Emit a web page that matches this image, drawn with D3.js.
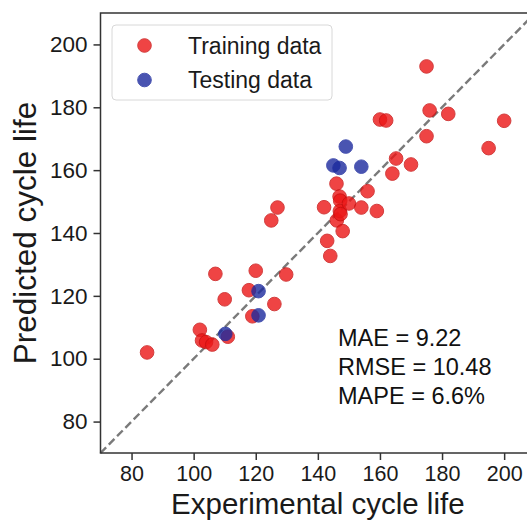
<!DOCTYPE html>
<html>
<head>
<meta charset="utf-8">
<script src="https://cdn.jsdelivr.net/npm/d3@7/dist/d3.min.js"></script>
<style>
  html, body { margin: 0; padding: 0; background: #fff; }
  svg { display: block; font-family: "Liberation Sans", Arial, Helvetica, sans-serif; }
</style>
</head>
<body>
<svg id="chart" width="527" height="520"></svg>
<script>
// Experimental vs predicted cycle life
const trainExp = [85, 102, 102.7, 104, 106, 107, 110, 111, 117.8, 118.9, 120, 125, 126, 127, 129.8,
  142, 143, 144, 146, 146.1, 147, 147.2, 147.1, 147.3, 148, 150, 154, 156, 159, 160, 162, 164,
  165.2, 170, 175, 175, 176, 182, 195, 200];
const trainPred = [102, 109.2, 105.8, 105.3, 104.5, 127, 118.9, 107, 121.8, 113.5, 128, 144, 117.4, 148.1, 126.8,
  148.2, 137.5, 132.7, 155.7, 144, 151.6, 150.3, 147, 146, 140.6, 149.4, 148.1, 153.3, 147, 176.1, 175.8, 158.9,
  163.7, 161.8, 193, 170.8, 179, 177.9, 167, 175.7];
const testExp = [110.2, 120.9, 120.9, 145, 147, 149, 154];
const testPred = [107.9, 121.5, 113.8, 161.5, 160.7, 167.5, 161.1];
const tickValues = [80, 100, 120, 140, 160, 180, 200];
const seriesNames = ["Training data", "Testing data"];
const metrics = ["MAE = 9.22", "RMSE = 10.48", "MAPE = 6.6%"];

const svg = d3.select("#chart");
const plotLeft = 100.5, plotRight = 535.2, plotTop = 13, plotBottom = 453;

const x = d3.scaleLinear().domain([70, 210]).range([plotLeft, plotRight]);
const y = d3.scaleLinear().domain([70, 210]).range([plotBottom, plotTop]);

svg.append("rect").attr("width", 527).attr("height", 520).attr("fill", "#fff");

// 1:1 reference line
svg.append("line")
  .attr("x1", x(70)).attr("y1", y(70))
  .attr("x2", x(210)).attr("y2", y(210))
  .attr("stroke", "#7a7a7a").attr("stroke-width", 2.4)
  .attr("stroke-dasharray", "8,3.8");

const colors = { train: "#ec1616", trainEdge: "#c80e0e", test: "#1c2a9e", testEdge: "#1c2a9e" };
const r = 6.8;

svg.append("g").selectAll("circle")
  .data(d3.range(trainExp.length))
  .join("circle")
  .attr("cx", i => x(trainExp[i]))
  .attr("cy", i => y(trainPred[i]))
  .attr("r", r)
  .attr("fill", colors.train)
  .attr("stroke", colors.trainEdge)
  .attr("stroke-width", 1)
  .attr("opacity", 0.8);

svg.append("g").selectAll("circle")
  .data(d3.range(testExp.length))
  .join("circle")
  .attr("cx", i => x(testExp[i]))
  .attr("cy", i => y(testPred[i]))
  .attr("r", r)
  .attr("fill", colors.test)
  .attr("stroke", colors.testEdge)
  .attr("stroke-width", 1)
  .attr("opacity", 0.8);

// axes
const axisColor = "#333";
const xAxis = svg.append("g")
  .attr("transform", `translate(0,${plotBottom})`)
  .call(d3.axisBottom(x).tickValues(tickValues).tickSize(7).tickPadding(6).tickSizeOuter(0));
const yAxis = svg.append("g")
  .attr("transform", `translate(${plotLeft},0)`)
  .call(d3.axisLeft(y).tickValues(tickValues).tickSize(7).tickPadding(6).tickSizeOuter(0));
[xAxis, yAxis].forEach(g => {
  g.select(".domain").remove();
  g.selectAll(".tick line").attr("stroke", axisColor).attr("stroke-width", 1.5);
  g.selectAll(".tick text").attr("fill", "#1a1a1a").attr("font-size", 21.5)
    .attr("font-family", "Liberation Sans, Arial, sans-serif");
});
yAxis.selectAll(".tick text").attr("font-size", 22.5);

// frame
svg.append("rect")
  .attr("x", plotLeft).attr("y", plotTop)
  .attr("width", plotRight - plotLeft).attr("height", plotBottom - plotTop)
  .attr("fill", "none").attr("stroke", axisColor).attr("stroke-width", 1.5);

// axis titles
svg.append("text")
  .attr("x", (plotLeft + plotRight) / 2).attr("y", 513.5)
  .attr("text-anchor", "middle").attr("font-size", 29.5).attr("fill", "#1a1a1a")
  .text("Experimental cycle life");
svg.append("text")
  .attr("transform", `translate(36,${(plotTop + plotBottom) / 2}) rotate(-90)`)
  .attr("text-anchor", "middle").attr("font-size", 31.5).attr("fill", "#1a1a1a")
  .text("Predicted cycle life");

// legend
const legend = svg.append("g");
legend.append("rect")
  .attr("x", 112).attr("y", 25).attr("width", 220).attr("height", 75).attr("rx", 4)
  .attr("fill", "#fff").attr("fill-opacity", 0.85)
  .attr("stroke", "#d8d8d8").attr("stroke-width", 1);
const legendColors = [[colors.train, colors.trainEdge], [colors.test, colors.testEdge]];
seriesNames.forEach((name, i) => {
  const cy = 45.5 + i * 34.5;
  legend.append("circle").attr("cx", 144.5).attr("cy", cy).attr("r", r)
    .attr("fill", legendColors[i][0]).attr("stroke", legendColors[i][1])
    .attr("stroke-width", 1).attr("opacity", 0.8);
  legend.append("text").attr("x", 188).attr("y", cy + 8)
    .attr("font-size", 23).attr("fill", "#1a1a1a").text(name);
});

// error metrics
svg.append("g").selectAll("text")
  .data(metrics)
  .join("text")
  .attr("x", 338).attr("y", (d, i) => 345.5 + i * 29)
  .attr("font-size", 23.5).attr("fill", "#111")
  .text(d => d);
</script>
</body>
</html>
